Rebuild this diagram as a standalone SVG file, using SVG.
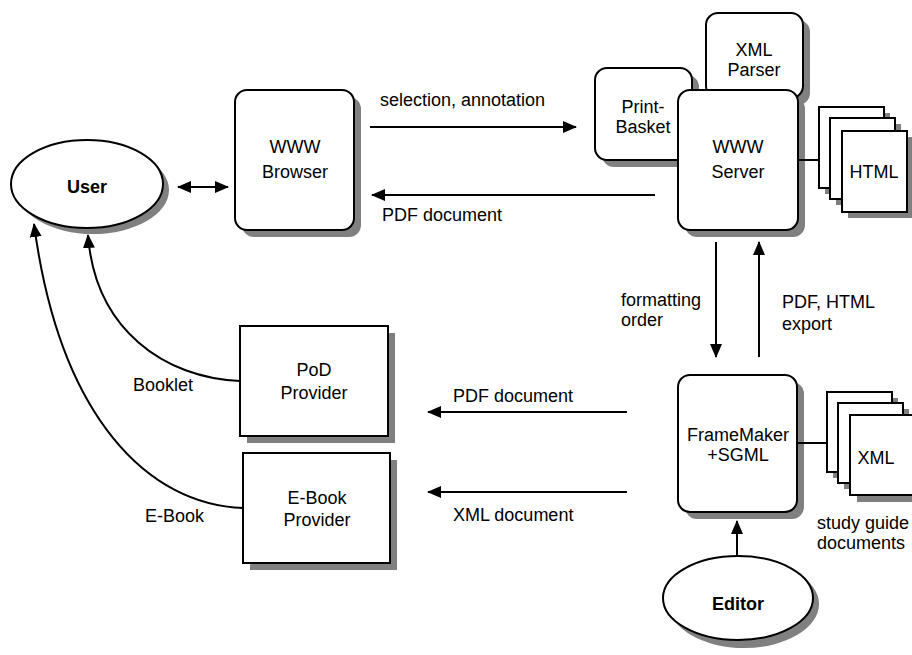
<svg xmlns="http://www.w3.org/2000/svg" width="912" height="655" viewBox="0 0 912 655">
<defs>
<style>
.box{fill:#fff;stroke:#000;stroke-width:2}
.sh{fill:#808080;stroke:none}
.t{font-family:"Liberation Sans",Arial,sans-serif;font-size:18px;fill:#000}
.c{text-anchor:middle}
.b{font-weight:bold}
.ln{fill:none;stroke:#000;stroke-width:2}
</style>
<marker id="ah" markerUnits="userSpaceOnUse" markerWidth="14" markerHeight="12" refX="13" refY="6" orient="auto-start-reverse">
<path d="M0,0 L14,6 L0,12 Z" fill="#000"/>
</marker>
</defs>
<rect width="912" height="655" fill="#fff"/>

<g id="user">
<ellipse class="sh" cx="93" cy="190" rx="76" ry="44"/>
<ellipse class="box" cx="87" cy="184" rx="76" ry="44"/>
<text class="t c b" x="87" y="193">User</text>
</g>

<g id="browser">
<rect class="sh" x="242" y="97" width="119" height="140" rx="12"/>
<rect class="box" x="235" y="90" width="119" height="140" rx="12"/>
<text class="t c" x="295" y="153">WWW</text>
<text class="t c" x="295" y="178">Browser</text>
</g>

<g id="xmlparser">
<rect class="sh" x="713" y="20" width="97" height="85" rx="12"/>
<rect class="box" x="706" y="13" width="97" height="85" rx="12"/>
<text class="t c" x="754" y="56">XML</text>
<text class="t c" x="754" y="76">Parser</text>
</g>

<g id="printbasket">
<rect class="sh" x="602" y="75" width="97" height="92" rx="12"/>
<rect class="box" x="595" y="68" width="97" height="92" rx="12"/>
<text class="t c" x="643" y="113">Print-</text>
<text class="t c" x="643" y="133">Basket</text>
</g>

<g id="server">
<rect class="sh" x="685" y="97" width="120" height="140" rx="12"/>
<rect class="box" x="678" y="90" width="120" height="140" rx="12"/>
<text class="t c" x="738" y="153">WWW</text>
<text class="t c" x="738" y="178">Server</text>
</g>

<g id="html">
<rect class="sh" x="825" y="113" width="65" height="81"/>
<rect class="box" x="819" y="107" width="65" height="81"/>
<rect class="sh" x="836" y="124" width="65" height="81"/>
<rect class="box" x="830" y="118" width="65" height="81"/>
<rect class="sh" x="848" y="137" width="65" height="81"/>
<rect class="box" x="842" y="131" width="65" height="81"/>
<text class="t c" x="874" y="178">HTML</text>
</g>

<g id="pod">
<rect class="sh" x="247" y="333" width="148" height="110"/>
<rect class="box" x="240" y="326" width="148" height="110"/>
<text class="t c" x="314" y="376">PoD</text>
<text class="t c" x="314" y="399">Provider</text>
</g>

<g id="ebook">
<rect class="sh" x="250" y="460" width="147" height="110"/>
<rect class="box" x="243" y="453" width="147" height="110"/>
<text class="t c" x="317" y="504">E-Book</text>
<text class="t c" x="317" y="526">Provider</text>
</g>

<g id="framemaker">
<rect class="sh" x="685" y="382" width="119" height="137" rx="12"/>
<rect class="box" x="678" y="375" width="119" height="137" rx="12"/>
<text class="t c" x="738" y="441">FrameMaker</text>
<text class="t c" x="738" y="461">+SGML</text>
</g>

<g id="xmldocs">
<rect class="sh" x="833" y="398" width="65" height="80"/>
<rect class="box" x="827" y="392" width="65" height="80"/>
<rect class="sh" x="844" y="409" width="65" height="80"/>
<rect class="box" x="838" y="403" width="65" height="80"/>
<rect class="sh" x="857" y="422" width="65" height="80"/>
<rect class="box" x="850" y="415" width="65" height="80"/>
<text class="t c" x="876" y="464">XML</text>
<text class="t" x="817" y="529">study guide</text>
<text class="t" x="817" y="549">documents</text>
</g>

<g id="editor">
<ellipse class="sh" cx="744" cy="604" rx="75" ry="44"/>
<ellipse class="box" cx="738" cy="598" rx="75" ry="42"/>
<text class="t c b" x="738" y="610">Editor</text>
</g>

<g id="connectors">
<line class="ln" x1="178" y1="187" x2="228" y2="187" marker-start="url(#ah)" marker-end="url(#ah)"/>
<line class="ln" x1="370" y1="127" x2="576" y2="127" marker-end="url(#ah)"/>
<line class="ln" x1="655" y1="195" x2="372" y2="195" marker-end="url(#ah)"/>
<line class="ln" x1="798" y1="160" x2="819" y2="160"/>
<line class="ln" x1="716" y1="242" x2="716" y2="357" marker-end="url(#ah)"/>
<line class="ln" x1="759" y1="357" x2="759" y2="242" marker-end="url(#ah)"/>
<line class="ln" x1="627" y1="412" x2="428" y2="412" marker-end="url(#ah)"/>
<line class="ln" x1="627" y1="492" x2="428" y2="492" marker-end="url(#ah)"/>
<line class="ln" x1="797" y1="443" x2="827" y2="443"/>
<line class="ln" x1="737" y1="556" x2="737" y2="521" marker-end="url(#ah)"/>
<path class="ln" d="M240,381 C165,378 95,330 88,235" marker-end="url(#ah)"/>
<path class="ln" d="M243,508 C150,505 60,420 34,224" marker-end="url(#ah)"/>
<text class="t" x="380" y="106">selection, annotation</text>
<text class="t" x="382" y="221">PDF document</text>
<text class="t" x="621" y="306">formatting</text>
<text class="t" x="621" y="326">order</text>
<text class="t" x="782" y="308">PDF, HTML</text>
<text class="t" x="782" y="330">export</text>
<text class="t" x="453" y="402">PDF document</text>
<text class="t" x="453" y="521">XML document</text>
<text class="t" x="133" y="391">Booklet</text>
<text class="t" x="145" y="522">E-Book</text>
</g>
</svg>
